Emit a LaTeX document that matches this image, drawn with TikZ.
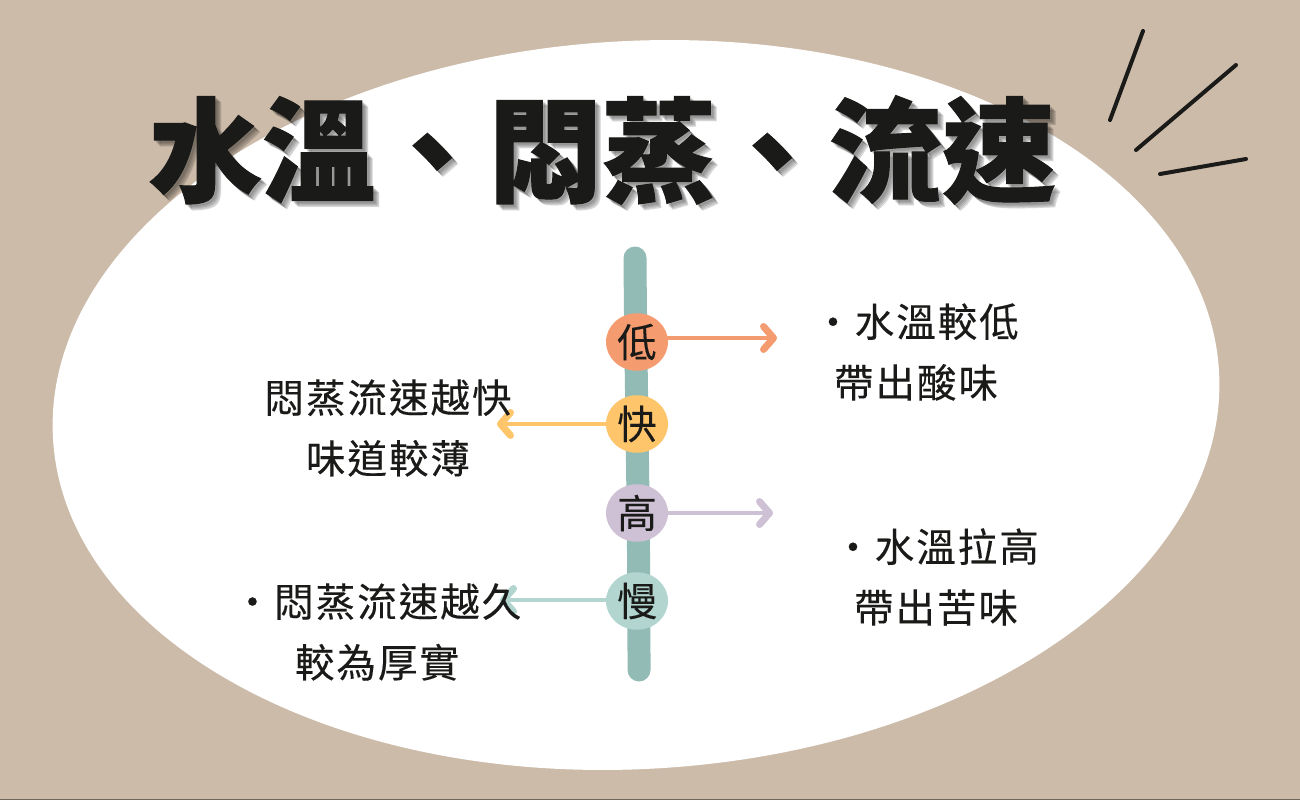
\documentclass[tikz,border=0pt]{standalone}
\usepackage{xcolor}
\usepackage{fontspec}
\usepackage{tikz}
\usetikzlibrary{shapes.geometric}
\usetikzlibrary{arrows.meta,positioning}
\newfontfamily\titlefont[BoldFeatures={FakeBold=0.9}]{Noto Sans CJK TC}
\newfontfamily\handfont[LetterSpace=5,FakeBold=0.25]{Noto Sans CJK TC}
\definecolor{sandbg}{HTML}{CCBBA9}
\definecolor{spinegreen}{HTML}{93BBB5}
\definecolor{lowcoral}{HTML}{F49C70}
\definecolor{fastamber}{HTML}{FEC56A}
\definecolor{highlilac}{HTML}{CEC0D5}
\definecolor{slowmint}{HTML}{B2D5D0}
\definecolor{inkblack}{HTML}{1A1A18}
\tikzset{
  dot/.style={fill=#1, ellipse, minimum width=1.24cm, minimum height=1.15cm, inner sep=0pt, text=inkblack, font=\handfont\fontsize{22.5}{22.5}\selectfont},
  pointer/.style={#1, line width=0.09cm, line cap=round, -{Straight Barb[length=0.2cm,width=0.46cm,line width=0.14cm,round]}},
  note/.style={align=center, text=inkblack, font=\handfont\fontsize{22.5}{34.6}\selectfont},
  headline/.style={inner sep=0pt, font=\titlefont\bfseries\fontsize{64.5}{65}\selectfont},
  spark/.style={inkblack, line width=0.08cm, line cap=round}
}
\begin{document}
\begin{tikzpicture}[x=0.02cm,y=-0.02cm]
            \useasboundingbox (0,0) rectangle (1300,800);
            \fill[sandbg] (0,0) rectangle (1300,800);
            \draw[black!45!sandbg, line width=0.03cm] (0,799.5) -- (1300,799.5);
            \fill[white, rotate around={3.3:(636,405)}] (636,405) ellipse [x radius=584, y radius=364];

            % spine
            \coordinate (top) at (635,258);
            \coordinate (bottom) at (639,670);
            \draw[spinegreen, line width=0.46cm, line cap=round] (top) .. controls (636,400) and (639,500) .. (bottom);

            % rates
            \node[dot=lowcoral] (low) at (637,342) {低};
            \node[dot=fastamber] (fast) at (637,424) {快};
            \node[dot=highlilac] (high) at (637,513) {高};
            \node[dot=slowmint] (slow) at (637,601) {慢};

            % free ends
            \coordinate (lowend) at (777,338);
            \coordinate (fastend) at (497,424);
            \coordinate (highend) at (773,513);
            \coordinate (slowend) at (500,600);
            \draw[pointer=lowcoral] (low.east |- lowend) -- (lowend);
            \draw[pointer=fastamber] (fast) -- (fastend);
            \draw[pointer=highlilac] (high) -- (highend);
            \draw[pointer=slowmint] (slow.west |- slowend) -- (slowend);

            % notes
            \node[note] (n1) at (916,352) {‧水溫較低\\帶出酸味};
            \node[note] (n2) at (388,428) {悶蒸流速越快\\味道較薄};
            \node[note] (n3) at (936,577) {‧水溫拉高\\帶出苦味};
            \node[note] (n4) at (377,632) {‧悶蒸流速越久\\較為厚實};

            % title
            \foreach \off in {2,3,4,5,6}
                \node[headline, text=black, text opacity=0.09] at (602+\off,150+\off) {水溫、悶蒸、流速};
            \node[headline, text=inkblack] (title) at (602,150) {水溫、悶蒸、流速};

            % sparks
            \draw[spark] (1143,31) -- (1110,120);
            \draw[spark] (1236,65) -- (1136,150);
            \draw[spark] (1246,159) -- (1160,174);
\end{tikzpicture}
\end{document}
